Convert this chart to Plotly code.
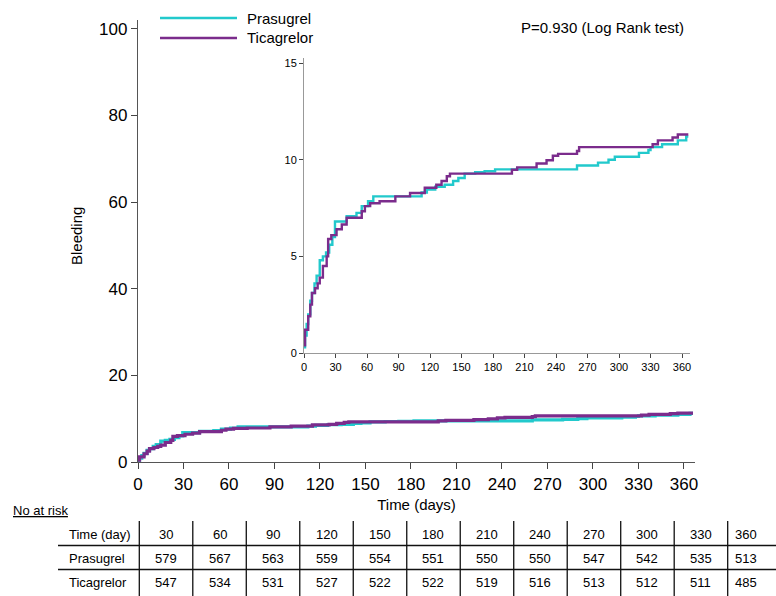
import plotly.graph_objects as go

W, H = 776, 596

# ---------------- data ----------------
series_names = ["Prasugrel", "Ticagrelor"]
series_colors = ["#22C9CC", "#7B2C8C"]

days_prasugrel = [0, 1, 2.5, 4, 6, 7.6, 10, 12, 15, 18, 21, 24, 27, 29.5, 40.6, 50, 55, 61, 66,
                  112, 117, 125, 134, 142, 147, 153, 163, 172, 182, 260, 280, 290, 296, 319,
                  328, 330, 341, 356, 364, 366]
bleed_prasugrel = [0.3, 0.9, 1.5, 2.0, 2.7, 3.1, 3.6, 4.0, 4.8, 5.0, 5.2, 5.6, 6.0, 6.8, 7.08, 7.25,
                   7.6, 7.85, 8.1, 8.3, 8.45, 8.6, 8.7, 8.9, 9.05, 9.28, 9.35, 9.4, 9.5, 9.7,
                   9.85, 10.0, 10.15, 10.35, 10.5, 10.65, 10.8, 11.0, 11.2, 11.2]

days_ticagrelor = [0, 1, 4, 6, 7.6, 10.5, 13, 15, 18, 21.6, 23, 26, 31, 36, 40.6, 55, 58, 63, 72,
                   87, 101, 115, 126, 131, 136, 139, 198, 203, 221.5, 231, 237, 242, 260, 262,
                   332, 337, 351, 356, 366]
bleed_ticagrelor = [0.4, 1.2, 1.9, 2.5, 3.1, 3.35, 3.6, 3.9, 4.5, 5.0, 5.9, 6.1, 6.4, 6.65, 7.0,
                    7.33, 7.6, 7.75, 7.85, 8.1, 8.28, 8.55, 8.7, 8.9, 9.14, 9.28, 9.48, 9.6,
                    9.8, 9.97, 10.2, 10.3, 10.45, 10.65, 10.8, 11.0, 11.15, 11.3, 11.3]

x_ticks = [0, 30, 60, 90, 120, 150, 180, 210, 240, 270, 300, 330, 360]
main_y_ticks = [0, 20, 40, 60, 80, 100]
inset_y_ticks = [0, 5, 10, 15]

p_value_text = "P=0.930 (Log Rank test)"
y_title = "Bleeding"
x_title = "Time (days)"

risk_title = "No at risk"
risk_row_labels = ["Time (day)", "Prasugrel", "Ticagrelor"]
risk_times = [30, 60, 90, 120, 150, 180, 210, 240, 270, 300, 330, 360]
risk_prasugrel = [579, 567, 563, 559, 554, 551, 550, 550, 547, 542, 535, 513]
risk_ticagrelor = [547, 534, 531, 527, 522, 522, 519, 516, 513, 512, 511, 485]

FONT = "Liberation Sans, Arial, sans-serif"


def fx(px):
    return px / W


def fy(py):
    return 1 - py / H


fig = go.Figure()

series = [(days_prasugrel, bleed_prasugrel), (days_ticagrelor, bleed_ticagrelor)]

# main plot traces
for (d, v), name, col in zip(series, series_names, series_colors):
    fig.add_trace(go.Scatter(x=d, y=v, mode="lines", name=name, line=dict(color=col, width=3.2, shape="hv"),
                             xaxis="x", yaxis="y", showlegend=False, cliponaxis=False))
# inset traces
for (d, v), name, col in zip(series, series_names, series_colors):
    fig.add_trace(go.Scatter(x=d, y=v, mode="lines", name=name, line=dict(color=col, width=2.4, shape="hv"),
                             xaxis="x2", yaxis="y2", showlegend=False, cliponaxis=False))

axis_common = dict(showgrid=False, zeroline=False, showline=True, ticks="outside",
                   tickcolor="#444", automargin=False)

fig.update_layout(
    width=W, height=H, autosize=False,
    margin=dict(l=0, r=0, t=0, b=0, pad=0, autoexpand=False),
    paper_bgcolor="white", plot_bgcolor="rgba(0,0,0,0)",
    font=dict(family=FONT, color="#000"),
    showlegend=False,
    xaxis=dict(domain=[fx(138), fx(695)], range=[0, 367.3], anchor="y", tickvals=x_ticks,
               ticklen=6, linewidth=1.3, tickwidth=1.3, linecolor="#555",
               title=dict(text=x_title, font=dict(size=15, family=FONT), standoff=6),
               tickfont=dict(family=FONT, size=17, color="#000"), **axis_common),
    yaxis=dict(domain=[fy(462), fy(20)], range=[0, 102], anchor="x", tickvals=main_y_ticks,
               ticklen=6, linewidth=1.3, tickwidth=1.3, linecolor="#555",
               tickfont=dict(family=FONT, size=17, color="#000"), **axis_common),
    xaxis2=dict(domain=[fx(304), fx(690)], range=[0, 367.6], anchor="y2", tickvals=x_ticks,
                ticklen=4, linewidth=1, tickwidth=1, linecolor="#999",
                tickfont=dict(family=FONT, size=11, color="#000"), **axis_common),
    yaxis2=dict(domain=[fy(353), fy(58)], range=[0, 15.26], anchor="x2", tickvals=inset_y_ticks,
                ticklen=4, linewidth=1, tickwidth=1, linecolor="#999",
                tickfont=dict(family=FONT, size=11, color="#000"), **axis_common),
)

shapes = []
annotations = []

# legend (manual, to match long line samples)
legend_y = [18, 38]
for name, col, ly in zip(series_names, series_colors, legend_y):
    shapes.append(dict(type="line", xref="paper", yref="paper", x0=fx(160), x1=fx(237),
                       y0=fy(ly), y1=fy(ly), line=dict(color=col, width=2.5)))
    annotations.append(dict(text=name, xref="paper", yref="paper", x=fx(245), y=fy(ly),
                            xanchor="left", yanchor="middle", showarrow=False,
                            font=dict(size=15, family=FONT, color="#000")))

# p-value
annotations.append(dict(text=p_value_text, xref="paper", yref="paper", x=fx(686), y=fy(27),
                        xanchor="right", yanchor="middle", showarrow=False,
                        font=dict(size=15, family=FONT, color="#000")))

# y-axis title
annotations.append(dict(text=y_title, xref="paper", yref="paper", x=fx(76), y=fy(236),
                        xanchor="center", yanchor="middle", textangle=-90, showarrow=False,
                        font=dict(size=15, family=FONT, color="#000")))

# ---------------- number-at-risk table ----------------
annotations.append(dict(text="<u>" + risk_title + "</u>", xref="paper", yref="paper", x=fx(11), y=fy(510),
                        xanchor="left", yanchor="middle", showarrow=False,
                        font=dict(size=13, family=FONT, color="#000")))

tab_left = 58
col0 = 139.3
col_w = 53.49
ncol = len(risk_times)
bounds = [col0 + col_w * i for i in range(ncol)] + [765]
row_y = [534, 558, 582]
hline_y = [545.5, 569.5]
vline_top, vline_bot = 521, 596

for hy in hline_y:
    shapes.append(dict(type="line", xref="paper", yref="paper", x0=fx(tab_left), x1=1,
                       y0=fy(hy), y1=fy(hy), line=dict(color="#111", width=1.3)))
for bx in bounds[:-1]:
    shapes.append(dict(type="line", xref="paper", yref="paper", x0=fx(bx), x1=fx(bx),
                       y0=fy(vline_top), y1=fy(vline_bot), line=dict(color="#111", width=1.3)))

rows = [risk_times, risk_prasugrel, risk_ticagrelor]
for label, vals, ry in zip(risk_row_labels, rows, row_y):
    annotations.append(dict(text=label, xref="paper", yref="paper", x=fx(67), y=fy(ry),
                            xanchor="left", yanchor="middle", showarrow=False,
                            font=dict(size=13, family=FONT, color="#000")))
    for i, v in enumerate(vals):
        cx = (bounds[i] + bounds[i + 1]) / 2
        annotations.append(dict(text=str(v), xref="paper", yref="paper", x=fx(cx), y=fy(ry),
                                xanchor="center", yanchor="middle", showarrow=False,
                                font=dict(size=13, family=FONT, color="#000")))

fig.update_layout(shapes=shapes, annotations=annotations)

fig.write_html(
    "out.html",
    config={"responsive": False, "displayModeBar": False},
    post_script="document.body.style.margin='0';document.body.style.overflow='hidden';",
)
